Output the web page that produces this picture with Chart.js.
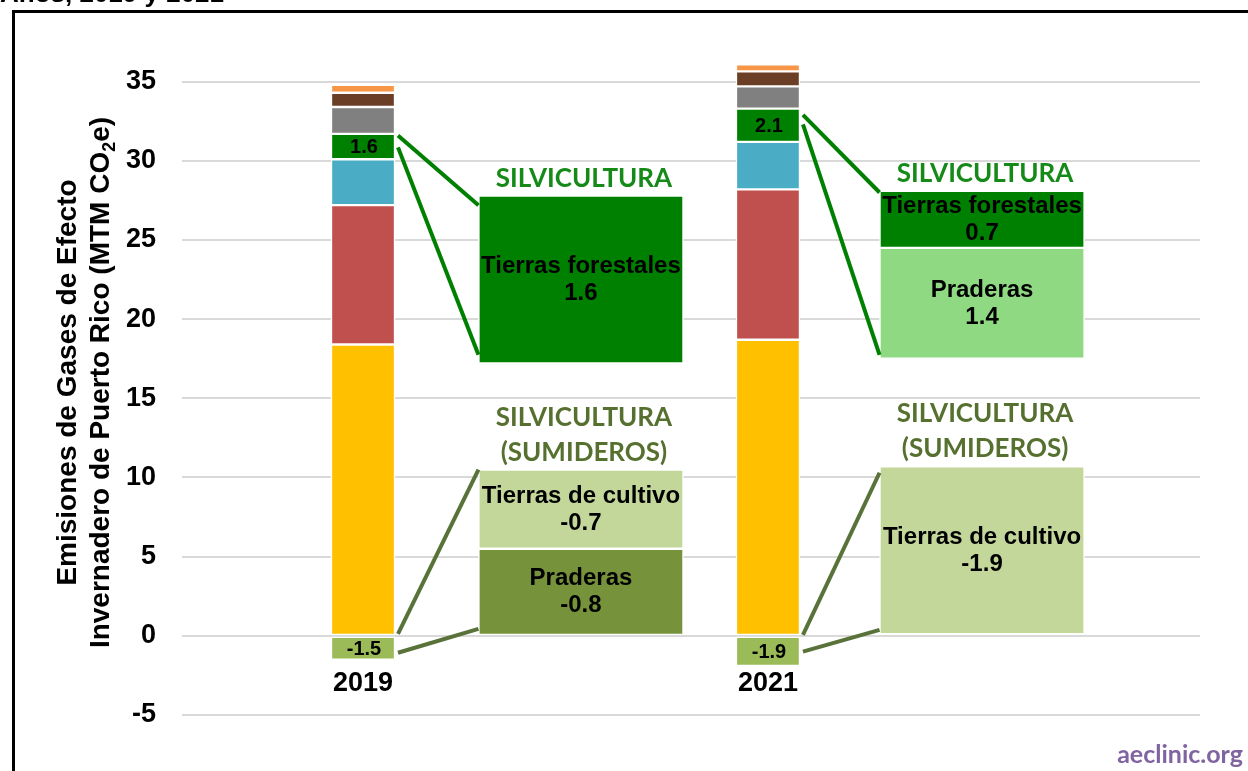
<!DOCTYPE html>
<html>
<head>
<meta charset="utf-8">
<script src="https://cdn.jsdelivr.net/npm/chart.js@4"></script>
<style>
  html, body { margin: 0; padding: 0; background: #fff; }
  canvas { display: block; }
</style>
</head>
<body>
<canvas id="chart" width="1248" height="771"></canvas>
<script>
const years = ['2019', '2021'];

// emisiones por sector (MTM CO2e), de abajo hacia arriba
const sectorAmarillo = [18.4, 18.7];
const sectorRojo = [8.8, 9.5];
const sectorAzul = [2.9, 3.0];
const silvicultura = [1.6, 2.1];
const sectorGris = [1.7, 1.4];
const sectorMarron = [0.9, 0.95];
const sectorNaranja = [0.5, 0.45];
const sumideros = [-1.5, -1.9];

// cajas de desglose (rango dibujado en la escala del eje)
const boxNames = ['Tierras forestales', 'Tierras forestales', 'Praderas', 'Tierras de cultivo', 'Praderas', 'Tierras de cultivo'];
const boxValues = [1.6, 0.7, 1.4, -0.7, -0.8, -1.9];
const boxYear = [0, 1, 1, 0, 0, 1];
const boxLow = [17.2, 24.5, 17.5, 5.5, 0, 0.1];
const boxHigh = [27.8, 28.1, 24.5, 10.5, 5.5, 10.7];

const yTickValues = [-5, 0, 5, 10, 15, 20, 25, 30, 35];

// posiciones en el eje x (0..10)
const barPos = [1.778, 5.756];
const boxPos = [3.919, 7.859];

const sectorSeries = [sectorAmarillo, sectorRojo, sectorAzul, silvicultura, sectorGris, sectorMarron, sectorNaranja];
const sectorColors = ['#FFC000', '#C0504D', '#4BACC6', '#008000', '#808080', '#6B3F26', '#F79646'];
const boxColors = ['#008000', '#008000', '#8FD983', '#C4D79B', '#76933C', '#C4D79B'];

const FOREST = '#008000';
const SINK = '#58723A';

// lineas de conexion: valores en la barra -> valores en la caja
const connectors = [
  { year: 0, box: 0, from: [31.6, 30.85], to: [27.2, 17.75], color: FOREST },
  { year: 1, box: 1, from: [32.9, 32.3], to: [28.0, 17.75], color: FOREST },
  { year: 0, box: 3, from: [0.13, -1.07], to: [10.5, 0.44], color: SINK },
  { year: 1, box: 5, from: [0.06, -1.0], to: [10.3, 0.38], color: SINK },
];

const headings = [
  { box: 0, lines: ['SILVICULTURA'], color: '#168A18' },
  { box: 1, lines: ['SILVICULTURA'], color: '#168A18' },
  { box: 3, lines: ['SILVICULTURA', '(SUMIDEROS)'], color: '#56702F' },
  { box: 5, lines: ['SILVICULTURA', '(SUMIDEROS)'], color: '#56702F' },
];

const common = {
  borderColor: '#fff',
  borderWidth: 1.5,
  borderSkipped: false,
  grouped: false,
};

const datasets = [];
const base = [0, 0];
sectorSeries.forEach((vals, s) => {
  datasets.push({
    ...common,
    label: 'sector' + s,
    data: vals.map((v, i) => {
      const d = { x: barPos[i], y: [base[i], base[i] + v] };
      base[i] += v;
      return d;
    }),
    backgroundColor: sectorColors[s],
    barThickness: 64,
  });
});
datasets.push({
  ...common,
  label: 'sumideros',
  data: sumideros.map((v, i) => ({ x: barPos[i], y: [v, 0] })),
  backgroundColor: '#9BBB59',
  barThickness: 64,
});
const firstBox = datasets.length;
boxNames.forEach((name, b) => {
  datasets.push({
    ...common,
    label: name,
    data: [{ x: boxPos[boxYear[b]], y: [boxLow[b], boxHigh[b]] }],
    backgroundColor: boxColors[b],
    barThickness: 205,
  });
});

const SANS = '"Liberation Sans", Arial, sans-serif';
const CAL = 'Lato, "Open Sans", sans-serif';

function fmt(v) {
  return v.toFixed(1);
}

const decorPlugin = {
  id: 'decor',
  beforeDraw(chart) {
    const ctx = chart.ctx;
    ctx.save();
    ctx.fillStyle = '#fff';
    ctx.fillRect(0, 0, chart.width, chart.height);
    // titulo cortado arriba
    ctx.fillStyle = '#000';
    ctx.font = 'bold 26px ' + SANS;
    ctx.textBaseline = 'alphabetic';
    ctx.fillText('Años, 2019 y 2021', 0, 2);
    // marco
    ctx.lineWidth = 3;
    ctx.strokeStyle = '#000';
    ctx.strokeRect(13.5, 11.5, chart.width + 20, chart.height + 20);
    ctx.restore();
  },
  afterDatasetsDraw(chart) {
    const ctx = chart.ctx;
    const y = chart.scales.y;
    ctx.save();

    // lineas de conexion
    connectors.forEach(c => {
      const bar = chart.getDatasetMeta(3).data[c.year];
      const box = chart.getDatasetMeta(firstBox + c.box).data[0];
      const x0 = bar.x + bar.width / 2 + 3;
      const x1 = box.x - box.width / 2;
      ctx.strokeStyle = c.color;
      ctx.lineWidth = 4;
      for (let k = 0; k < 2; k++) {
        ctx.beginPath();
        ctx.moveTo(x0, y.getPixelForValue(c.from[k]));
        ctx.lineTo(x1, y.getPixelForValue(c.to[k]));
        ctx.stroke();
      }
    });

    // etiquetas en los segmentos
    ctx.fillStyle = '#000';
    ctx.textAlign = 'center';
    ctx.textBaseline = 'middle';
    ctx.font = 'bold 20px ' + SANS;
    [3, 7].forEach(di => {
      const vals = di === 3 ? silvicultura : sumideros;
      chart.getDatasetMeta(di).data.forEach((el, i) => {
        ctx.fillText(fmt(vals[i]), el.x + 1, (el.y + el.base) / 2 + 1);
      });
    });

    // etiquetas de las cajas
    ctx.font = 'bold 24px ' + SANS;
    boxNames.forEach((name, b) => {
      const el = chart.getDatasetMeta(firstBox + b).data[0];
      const cy = (el.y + el.base) / 2;
      ctx.fillText(name, el.x, cy - 13);
      ctx.fillText(fmt(boxValues[b]), el.x, cy + 14);
    });

    // encabezados
    ctx.font = 'bold 26px ' + CAL;
    ctx.textBaseline = 'alphabetic';
    headings.forEach(h => {
      const el = chart.getDatasetMeta(firstBox + h.box).data[0];
      const top = Math.min(el.y, el.base);
      ctx.fillStyle = h.color;
      const n = h.lines.length;
      h.lines.forEach((line, k) => {
        ctx.fillText(line, el.x + 3, top - 9 - (n - 1 - k) * 35);
      });
    });

    // etiquetas de los años
    ctx.fillStyle = '#000';
    ctx.font = 'bold 27px ' + SANS;
    ctx.textBaseline = 'middle';
    years.forEach((yr, i) => {
      const el = chart.getDatasetMeta(0).data[i];
      ctx.fillText(yr, el.x, y.getPixelForValue(-2.95) + 1);
    });

    // titulo del eje y
    const cy = (chart.chartArea.top + chart.chartArea.bottom) / 2;
    ctx.textAlign = 'left';
    ctx.textBaseline = 'alphabetic';
    const drawRuns = (runs, bx) => {
      let total = 0;
      runs.forEach(r => { ctx.font = r.font; total += ctx.measureText(r.text).width; });
      ctx.save();
      ctx.translate(bx, cy);
      ctx.rotate(-Math.PI / 2);
      let x = -total / 2;
      runs.forEach(r => {
        ctx.font = r.font;
        ctx.fillText(r.text, x, r.dy || 0);
        x += ctx.measureText(r.text).width;
      });
      ctx.restore();
    };
    const f = 'bold 28px ' + SANS;
    drawRuns([{ text: 'Emisiones de Gases de Efecto', font: f }], 76);
    drawRuns([
      { text: 'Invernadero de Puerto Rico (MTM CO', font: f },
      { text: '2', font: 'bold 18px ' + SANS, dy: 6 },
      { text: 'e)', font: f },
    ], 109);

    // marca
    ctx.fillStyle = '#8064A2';
    ctx.font = 'bold 25px ' + CAL;
    ctx.textAlign = 'right';
    ctx.fillText('aeclinic.org', 1243, 763);

    ctx.restore();
  },
};

new Chart(document.getElementById('chart'), {
  type: 'bar',
  data: { datasets },
  options: {
    responsive: false,
    animation: false,
    devicePixelRatio: 1,
    layout: { padding: { left: 112, right: 48, top: 50, bottom: 56 } },
    plugins: {
      legend: { display: false },
      tooltip: { enabled: false },
    },
    scales: {
      x: { type: 'linear', min: 0, max: 10, offset: false, display: false },
      y: {
        min: -5,
        max: 37,
        afterBuildTicks: s => { s.ticks = yTickValues.map(v => ({ value: v })); },
        afterFit: s => { s.width = 70; },
        grid: { color: '#D9D9D9', lineWidth: 2, drawTicks: false },
        border: { display: false },
        ticks: {
          padding: 26,
          color: '#000',
          font: { family: SANS, size: 27, weight: 'bold' },
        },
      },
    },
  },
  plugins: [decorPlugin],
});
</script>
</body>
</html>
